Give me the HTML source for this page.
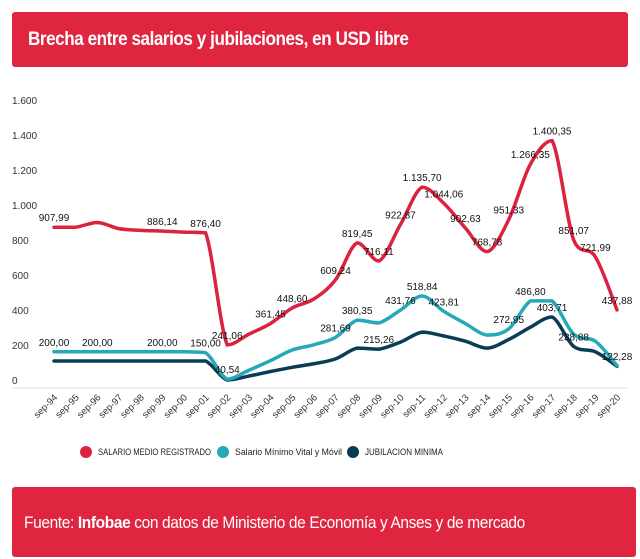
<!DOCTYPE html>
<html><head><meta charset="utf-8">
<style>
body{margin:0;background:#fff;width:640px;height:546px;overflow:hidden;font-family:"Liberation Sans",sans-serif;}
.hdr{position:absolute;left:12px;top:12px;width:616px;height:55px;background:#df2540;border-radius:3px;color:#fff;font-size:19px;font-weight:bold;line-height:55px;box-sizing:border-box;letter-spacing:-0.5px}
.hdr span{position:absolute;left:16px;transform:scaleX(0.9);transform-origin:0 50%;white-space:nowrap}
.ftr{position:absolute;left:12px;top:487px;width:624px;height:70px;background:#df2540;border-radius:3px;color:#fff;font-size:17px;line-height:72px;box-sizing:border-box;letter-spacing:-0.4px}
.ftr span{position:absolute;left:12px;transform:scaleX(0.91);transform-origin:0 50%;white-space:nowrap}
svg{position:absolute;left:0;top:0}
</style></head><body>
<div class="hdr"><span>Brecha entre salarios y jubilaciones, en USD libre</span></div>
<svg id="chart" width="640" height="480"></svg>
<div class="ftr"><span>Fuente: <b>Infobae</b> con datos de Ministerio de Economía y Anses y de mercado</span></div>
<script>
const categories=["sep-94","sep-95","sep-96","sep-97","sep-98","sep-99","sep-00","sep-01","sep-02","sep-03","sep-04","sep-05","sep-06","sep-07","sep-08","sep-09","sep-10","sep-11","sep-12","sep-13","sep-14","sep-15","sep-16","sep-17","sep-18","sep-19","sep-20"];
const salario=[908,908,935,900,890,886,880,876,239,300,361,449,500,609,819,716,923,1136,1044,903,769,951,1266,1400,835,740,438];
const minimo=[200,200,200,200,200,200,200,195,45,95,150,210,240,282,380,364,437,517,430,360,295,330,489,489,300,260,122];
const jubilacion=[148,148,148,148,148,148,148,148,40,62,88,112,132,160,221,215,255,312,290,260,221,270,340,398,230,200,118];
const salarioLabels=["907,99",null,null,null,null,"886,14",null,"876,40","241,06",null,"361,45","448,60",null,"609,24","819,45","716,11","922,87","1.135,70","1.044,06","902,63","768,78","951,33","1.266,35","1.400,35","851,07","721,99","437,88"];
const minimoLabels=["200,00",null,"200,00",null,null,"200,00",null,"150,00","40,54",null,null,null,null,"281,69","380,35",null,"431,76","518,84","423,81",null,null,"272,95","486,80",null,null,null,null];
const jubilacionLabels=[null,null,null,null,null,null,null,null,null,null,null,null,null,null,null,"215,26",null,null,null,null,null,null,null,"403,71","238,88",null,"122,28"];
const yTicks=[0,200,400,600,800,1000,1200,1400,1600];
const yTickLabels=["0","200","400","600","800","1.000","1.200","1.400","1.600"];
const svg=document.getElementById('chart');
const NS='http://www.w3.org/2000/svg';
const x=i=>54+i*(563/(categories.length-1));
const y=v=>387-v*0.176;
const yl=v=>380-v*0.175;
function el(t,a,p){const e=document.createElementNS(NS,t);for(const k in a)e.setAttribute(k,a[k]);(p||svg).appendChild(e);return e;}
yTicks.forEach((t,i)=>{const e=el('text',{x:12,y:yl(t)+4,'font-size':10,fill:'#333'});e.textContent=yTickLabels[i];

});
const base=el('line',{x1:12,x2:628,y1:388,y2:388,stroke:'#ddd','stroke-width':1});


categories.forEach((c,i)=>{const e=el('text',{x:x(i)+4,y:398,'font-size':9.5,fill:'#333','text-anchor':'end',transform:`rotate(-45 ${x(i)+4} 398)`});e.textContent=c;

});
const cl=(v,a,b)=>Math.max(Math.min(a,b),Math.min(Math.max(a,b),v));
function path(vals){const p=vals.map((v,i)=>[x(i),y(v)]);let d=`M${p[0][0]},${p[0][1]}`;
for(let i=0;i<p.length-1;i++){const p0=p[i-1]||p[i],p1=p[i],p2=p[i+1],p3=p[i+2]||p2;const t=6;
const c1y=cl(p1[1]+(p2[1]-p0[1])/t,p1[1],p2[1]),c2y=cl(p2[1]-(p3[1]-p1[1])/t,p1[1],p2[1]);
d+=` C${p1[0]+(p2[0]-p0[0])/t},${c1y} ${p2[0]-(p3[0]-p1[0])/t},${c2y} ${p2[0]},${p2[1]}`;}return d;}
const series=[[jubilacion,'#0b3c55','jubilacion-minima-line',jubilacionLabels],[minimo,'#25a9b6','salario-minimo-line',minimoLabels],[salario,'#db2340','salario-medio-line',salarioLabels]];
series.forEach(s=>{const e=el('path',{d:path(s[0]),fill:'none',stroke:s[1],'stroke-width':3.5,'stroke-linecap':'round'});

});
series.forEach(s=>{s[3].forEach((l,i)=>{if(!l)return;const t=el('text',{x:x(i),y:y(s[0][i])-6,'font-size':10,fill:'#111','text-anchor':'middle'});t.textContent=l;

});});
const legend=[['#db2340','SALARIO MEDIO REGISTRADO',86,113],['#25a9b6','Salario Mínimo Vital y Móvil',223,107],['#0b3c55','JUBILACION MINIMA',353,78]];
legend.forEach(l=>{const g=el('g',{});


el('circle',{cx:l[2],cy:452,r:6,fill:l[0]},g);const t=el('text',{x:l[2]+12,y:455,'font-size':9,fill:'#222',textLength:l[3],lengthAdjust:'spacingAndGlyphs'},g);t.textContent=l[1];});
</script>
</body></html>
